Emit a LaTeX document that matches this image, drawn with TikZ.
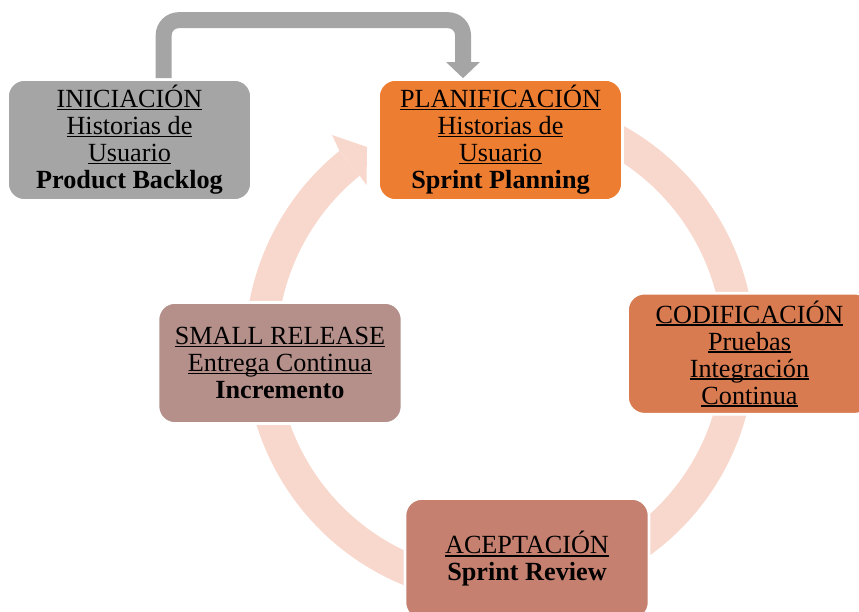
\documentclass[tikz,border=0pt]{standalone}
\usepackage{fontspec}
\setmainfont{Liberation Serif}
\usetikzlibrary{arrows.meta}
\definecolor{cInic}{HTML}{A5A5A5}
\definecolor{cPlan}{HTML}{ED7D31}
\definecolor{cCod}{HTML}{D97B50}
\definecolor{cAcep}{HTML}{C5806F}
\definecolor{cSmall}{HTML}{B5908A}
\definecolor{cRing}{HTML}{F8D8CC}
\newcommand\ulx[1]{\leavevmode\setbox0\hbox{#1}\rlap{\rule[-2.6pt]{\wd0}{1.3pt}}\box0}
\tikzset{
  phase/.style={rounded corners=17pt, minimum width=244pt, minimum height=121pt,
    draw=white, line width=2.6pt, align=center, inner sep=0pt, text=black,
    font=\fontsize{26.2}{27}\selectfont},
  ringline/.style={draw=cRing, line width=32pt},
  gconn/.style={draw=cInic, line width=16pt, rounded corners=15pt,
    -{Triangle[length=16pt,width=32.6pt]}}
}
\begin{document}
\begin{tikzpicture}[x=1pt,y=-1pt]
\useasboundingbox (0,0) rectangle (859,612);
\clip (0,0) rectangle (859,612);
% cycle ring
\coordinate (ctr) at (500,349);
\draw[ringline] (ctr) ++(-75:239) arc[start angle=-75, end angle=231, radius=239];
\fill[cRing] (339.5,150.8) -- (332,135) -- (367,147) -- (366.5,185) -- (359.7,175.7) -- cycle;
% nodes
\node[phase, fill=cInic] (inic) at (129.5,140)
  {\ulx{INICIACIÓN}\\ \ulx{Historias de}\\ \ulx{Usuario}\\ \textbf{Product Backlog}};
\node[phase, fill=cPlan] (plan) at (500.5,140)
  {\ulx{PLANIFICACIÓN}\\ \ulx{Historias de}\\ \ulx{Usuario}\\ \textbf{Sprint Planning}};
\node[phase, fill=cCod] (cod) at (749.5,353.7)
  {\ulx{CODIFICACIÓN}\\ \ulx{Pruebas}\\ \ulx{Integración}\\ \ulx{Continua}};
\node[phase, fill=cAcep] (acep) at (527,559)
  {\ulx{ACEPTACIÓN}\\ \textbf{Sprint Review}};
\node[phase, fill=cSmall] (small) at (280,363)
  {\ulx{SMALL RELEASE}\\ \ulx{Entrega Continua}\\ \textbf{Incremento}};
% grey connector
\draw[gconn] ([xshift=34.2pt]inic.north) -- ++(0,-58) -| ([xshift=-37.5pt]plan.north);
\end{tikzpicture}
\end{document}
